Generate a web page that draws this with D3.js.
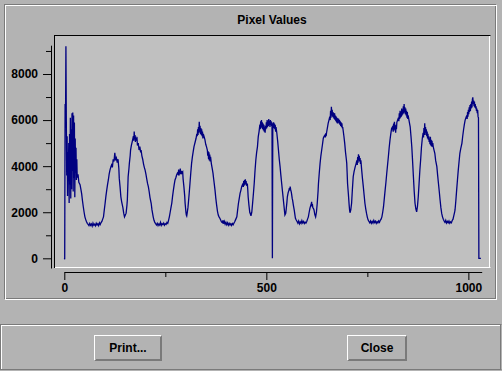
<!DOCTYPE html>
<html><head><meta charset="utf-8">
<script src="https://cdn.jsdelivr.net/npm/d3@7"></script>
<style>
html,body{margin:0;padding:0;background:#b3b3b3;overflow:hidden}
svg{display:block}
text{font-family:"Liberation Sans",Arial,Helvetica,sans-serif;font-weight:bold;font-size:12px;fill:#000}
</style></head><body>
<svg id="c" width="502" height="371"></svg>
<script>
const chartTitle = "Pixel Values";
const xTickMajor = [0, 500, 1000];
const xTickMinor = [250, 750];
const yTickMajor = [0, 2000, 4000, 6000, 8000];
const yTickMinor = [1000, 3000, 5000, 7000, 9000];
const buttonLabels = ["Print...", "Close"];
// [pixel index, pixel value]
const pixelSamples = [
[0,0],[1,-40],[2,6700],[3,5900],[4,9200],[5,5950],[6,3600],[7,5300],[8,2700],[9,4600],[10,3400],[11,5000],[12,2400],[13,5400],[14,3200],[15,6100],[16,2600],[17,5600],[18,3000],[19,6300],[20,3800],[21,6330],[22,2900],[23,6200],[24,3500],[25,5900],[26,2650],[27,5200],[28,3700],[29,4800],[30,3400],[31,4300],[32,3500],[34,3650],[36,3300],[39,3200],[41,3000],[43,2800],[45,2500],[47,2240],[49,2000],[51,1800],[53,1680],[55,1590],[57,1520],[59,1470],[61,1420],[63,1510],[65,1430],[67,1490],[69,1400],[71,1530],[73,1440],[75,1480],[77,1410],[79,1520],[81,1450],[83,1500],[85,1420],[87,1540],[89,1470],[91,1550],[93,1600],[95,1700],[97,1800],[99,2100],[101,2390],[103,2700],[105,2960],[107,3200],[109,3400],[111,3650],[113,3830],[115,3950],[117,4050],[119,3950],[121,4300],[123,4200],[125,4580],[127,4250],[129,4350],[131,4150],[133,4300],[135,3900],[136,3480],[138,3100],[140,2670],[142,2450],[145,2200],[147,1960],[149,1800],[151,1880],[153,1960],[155,2300],[156,2530],[158,3540],[160,3900],[161,4120],[163,4450],[164,4700],[166,4900],[169,5130],[171,5300],[172,5100],[173,5500],[174,5200],[175,5350],[176,5050],[177,5280],[178,5150],[180,5200],[181,4900],[183,5000],[185,4700],[187,4850],[189,4600],[190,4700],[192,4450],[194,4300],[196,4100],[198,3950],[200,3830],[202,3650],[204,3450],[206,3250],[208,3110],[210,2900],[212,2650],[215,2390],[217,2100],[220,1800],[222,1650],[224,1560],[226,1500],[228,1450],[230,1520],[232,1420],[234,1490],[236,1440],[238,1560],[240,1430],[242,1500],[244,1460],[246,1530],[248,1440],[250,1500],[252,1470],[254,1560],[256,1520],[258,1650],[260,1800],[262,2000],[264,2200],[266,2390],[268,2700],[270,2960],[272,3200],[274,3400],[276,3500],[278,3615],[280,3700],[282,3650],[283,3850],[284,3600],[285,3750],[286,3700],[287,3900],[288,3650],[290,3800],[291,3700],[293,3750],[294,3450],[296,3110],[298,2700],[299,2390],[301,2000],[302,1880],[303,1840],[304,1950],[306,2200],[307,2390],[309,2800],[311,3250],[313,3700],[315,4120],[317,4400],[319,4630],[321,4850],[324,5060],[326,5200],[328,5400],[329,5300],[330,5600],[331,5350],[332,5700],[333,5450],[334,5930],[335,5500],[336,5750],[337,5400],[338,5650],[339,5350],[340,5600],[341,5300],[342,5500],[343,5200],[344,5400],[346,5280],[348,5150],[350,4950],[352,4840],[354,4700],[355,4450],[356,4650],[357,4300],[358,4600],[359,4250],[360,4500],[361,4200],[362,4400],[364,4100],[366,3900],[368,3700],[369,3540],[371,3250],[373,2960],[375,2600],[377,2310],[379,2050],[381,1880],[383,1800],[385,1740],[387,1660],[389,1580],[391,1550],[393,1650],[394,1500],[396,1600],[398,1480],[400,1560],[402,1460],[404,1540],[406,1440],[408,1520],[410,1450],[412,1500],[414,1430],[416,1510],[418,1460],[420,1530],[422,1600],[424,1680],[427,1800],[429,2100],[431,2390],[433,2600],[435,2820],[437,2950],[439,3110],[441,3200],[443,3100],[444,3350],[445,3150],[446,3400],[447,3200],[448,3430],[449,3250],[450,3350],[451,3150],[453,3250],[454,3000],[455,2670],[457,2300],[459,2000],[461,1900],[462,1840],[464,2000],[466,2390],[468,2800],[470,3250],[472,3800],[474,4270],[476,4600],[478,4840],[480,5280],[482,5500],[484,5800],[485,5600],[486,5950],[487,5700],[488,6000],[489,5650],[490,5900],[491,5600],[492,5850],[493,5550],[494,5800],[495,5500],[496,5700],[497,5450],[498,5750],[499,5600],[500,5900],[501,5650],[502,6000],[503,5700],[504,5950],[505,5750],[506,6050],[507,5800],[508,5950],[509,5700],[510,6000],[511,5800],[512,5950],[513,5750],[514,5900],[515,0],[516,5850],[517,5700],[518,5900],[519,5650],[520,5850],[521,5600],[522,5800],[523,5500],[524,5700],[526,5430],[528,5100],[530,4700],[532,4300],[534,3980],[536,3600],[538,3250],[540,2900],[543,2390],[545,2050],[546,1880],[548,1950],[549,2100],[551,2450],[552,2670],[554,2850],[556,2960],[557,3050],[558,2950],[559,3110],[560,3000],[562,2850],[564,2600],[565,2530],[567,2300],[569,2100],[571,1850],[572,1740],[574,1660],[576,1600],[578,1530],[580,1620],[582,1500],[584,1580],[586,1520],[588,1640],[590,1540],[592,1600],[594,1510],[596,1570],[598,1530],[600,1600],[602,1700],[604,1800],[606,2000],[608,2180],[610,2300],[611,2250],[612,2450],[613,2300],[614,2350],[615,2200],[617,2150],[618,2100],[620,1900],[622,1800],[624,2000],[626,2390],[628,2900],[629,3250],[631,3700],[633,4120],[635,4450],[637,4700],[639,4950],[641,5210],[643,5300],[645,5350],[646,5250],[647,5430],[648,5300],[649,5450],[651,5650],[653,5860],[655,6000],[657,6150],[658,6000],[659,6400],[660,6100],[661,6580],[662,6200],[663,6450],[664,6150],[665,6350],[666,6100],[667,6300],[668,6050],[669,6300],[670,6000],[671,6200],[672,5950],[673,6150],[674,5900],[675,6100],[676,5850],[677,6080],[678,5900],[679,6050],[680,5850],[681,6000],[682,5800],[683,5950],[684,5750],[685,5900],[686,5700],[687,5860],[688,5650],[689,5700],[690,5570],[692,5300],[694,4990],[696,4600],[698,4300],[699,4120],[700,3700],[701,3250],[703,2800],[705,2310],[706,2100],[707,1980],[709,2100],[711,2390],[713,3000],[715,3540],[717,3750],[720,3980],[722,4100],[724,4250],[725,4050],[726,4400],[727,4150],[728,4520],[729,4250],[730,4450],[731,4200],[732,4350],[733,4100],[734,4250],[736,3830],[738,3450],[740,3110],[742,2750],[744,2390],[746,2150],[748,1950],[750,1780],[752,1660],[754,1600],[756,1540],[758,1620],[760,1520],[762,1600],[764,1530],[766,1640],[768,1550],[770,1610],[772,1520],[774,1590],[776,1540],[778,1620],[780,1560],[782,1650],[784,1700],[786,1800],[788,2000],[790,2240],[792,2600],[794,2960],[796,3300],[798,3690],[800,4050],[802,4410],[804,4800],[806,5130],[808,5400],[810,5640],[812,5700],[814,5500],[815,5850],[816,5550],[817,5930],[818,5600],[819,5800],[820,5450],[821,5750],[822,5600],[823,5900],[825,6000],[827,6100],[828,5950],[829,6300],[830,6050],[831,6400],[832,6100],[833,6350],[834,6150],[835,6500],[836,6200],[837,6450],[838,6250],[839,6600],[840,6300],[841,6700],[842,6350],[843,6550],[844,6250],[845,6500],[846,6200],[847,6400],[848,6100],[849,6350],[850,6050],[851,6200],[853,6000],[855,5800],[856,5710],[858,5300],[860,4840],[862,4200],[864,3540],[866,2900],[868,2390],[870,2150],[872,2020],[874,2250],[876,2670],[878,3250],[880,3830],[882,4300],[884,4840],[886,5200],[888,5450],[889,5250],[890,5650],[891,5350],[892,5860],[893,5450],[894,5700],[895,5350],[896,5600],[897,5300],[898,5500],[899,5200],[900,5400],[901,5150],[902,5300],[903,5050],[904,5200],[905,4950],[906,5280],[907,4900],[908,5150],[909,4850],[910,5100],[911,4840],[912,5000],[913,4850],[915,4700],[917,4560],[919,4250],[922,3980],[924,3600],[926,3250],[928,2900],[930,2530],[932,2200],[934,1950],[936,1800],[938,1700],[940,1620],[942,1560],[944,1650],[946,1530],[948,1600],[950,1540],[952,1620],[954,1520],[956,1580],[958,1540],[960,1640],[962,1700],[964,1850],[966,2000],[967,2100],[969,2500],[971,2960],[973,3400],[975,3830],[977,4200],[979,4560],[981,4750],[984,4990],[986,5300],[988,5570],[990,5800],[992,6000],[994,6100],[996,6200],[997,6050],[998,6350],[999,6150],[1000,6450],[1001,6250],[1002,6550],[1003,6350],[1004,6650],[1005,6400],[1006,6700],[1007,6500],[1008,6800],[1009,6550],[1010,6900],[1011,6990],[1012,6700],[1013,6850],[1014,6600],[1015,6800],[1016,6550],[1017,6700],[1018,6500],[1019,6600],[1020,6400],[1021,6500],[1022,6300],[1023,6440],[1024,6150],[1025,6100],[1026,0],[1031,0]
];
const xDomain = [0, 1033];
const yDomain = [-420, 9250];

const svg = d3.select("#c");
const BG = "#b3b3b3", PLOT_BG = "#c0c0c0", DARK = "#7a7a7a";

svg.append("rect").attr("width",502).attr("height",371).attr("fill",BG);

// top panel etched frame
svg.append("rect").attr("x",4.5).attr("y",4.5).attr("width",491).attr("height",294)
  .attr("fill","none").attr("stroke",DARK);
svg.append("rect").attr("x",5.5).attr("y",5.5).attr("width",491).attr("height",294)
  .attr("fill","none").attr("stroke","#fff");

// title
svg.append("text").attr("x",272).attr("y",24).attr("text-anchor","middle").text(chartTitle);

// plot area
const P = {x0:55, y0:36, x1:489, y1:267};
svg.append("rect").attr("x",P.x0).attr("y",P.y0).attr("width",P.x1-P.x0).attr("height",P.y1-P.y0).attr("fill",PLOT_BG);
svg.append("path").attr("d",`M54,35.5H490.5M54.5,35V268`).attr("stroke","#000").attr("fill","none");
svg.append("path").attr("d",`M55,267.5H490.5M489.5,36V268`).attr("stroke","#fff").attr("fill","none");

svg.append("clipPath").attr("id","clip").append("rect")
  .attr("x",P.x0).attr("y",P.y0).attr("width",P.x1-P.x0).attr("height",P.y1-P.y0);

const x = d3.scaleLinear().domain(xDomain).range([64.3, 481.7]);
const y = d3.scaleLinear().domain(yDomain).range([268, 45.2]);

const line = d3.line().x(d => x(d[0])).y(d => y(d[1]));
svg.append("path").datum(pixelSamples).attr("clip-path","url(#clip)")
  .attr("d",line).attr("fill","none").attr("stroke","#000080").attr("stroke-width",1.3)
  .attr("stroke-linejoin","miter");

const fmt = d3.format("d");

// y axis
svg.append("g").attr("transform","translate(51,0)")
  .call(d3.axisLeft(y).tickValues(yTickMajor).tickFormat(fmt).tickSize(8).tickPadding(5).tickSizeOuter(0));
const gy2 = svg.append("g").attr("transform","translate(51,0)")
  .call(d3.axisLeft(y).tickValues(yTickMinor).tickSize(5).tickFormat("").tickSizeOuter(0));
gy2.select(".domain").remove();

// x axis
svg.append("g").attr("transform","translate(0,272)")
  .call(d3.axisBottom(x).tickValues(xTickMajor).tickFormat(fmt).tickSize(8).tickPadding(3).tickSizeOuter(0));
const gx2 = svg.append("g").attr("transform","translate(0,272)")
  .call(d3.axisBottom(x).tickValues(xTickMinor).tickSize(5).tickFormat("").tickSizeOuter(0));
gx2.select(".domain").remove();

svg.selectAll(".domain, .tick line").attr("stroke","#000");
svg.selectAll("g").attr("font-size",null).attr("font-family",null);

// lower button panel
svg.append("path").attr("d","M0,324.5H501.5M0.5,324.5V370M0,369.5H501.5M500.5,324.5V370")
  .attr("stroke",DARK).attr("fill","none");
svg.append("path").attr("d","M1,325.5H500M1.5,325.5V369").attr("stroke","#fff").attr("fill","none");

const buttons = [
  {label: buttonLabels[0], x0:94, x1:162},
  {label: buttonLabels[1], x0:347, x1:407}
];
const by0 = 335, by1 = 361;
buttons.forEach(b => {
  svg.append("path").attr("d",`M${b.x0},${by0+0.5}H${b.x1-1}M${b.x0+0.5},${by0}V${by1-1}`)
    .attr("stroke","#fff").attr("fill","none");
  svg.append("path").attr("d",`M${b.x0+1},${by1-0.5}H${b.x1}M${b.x0+2},${by1-1.5}H${b.x1}M${b.x1-0.5},${by0+1}V${by1}M${b.x1-1.5},${by0+2}V${by1}`)
    .attr("stroke",DARK).attr("fill","none");
  svg.append("text").attr("x",(b.x0+b.x1)/2).attr("y",352).attr("text-anchor","middle").text(b.label);
});
</script>
</body></html>
